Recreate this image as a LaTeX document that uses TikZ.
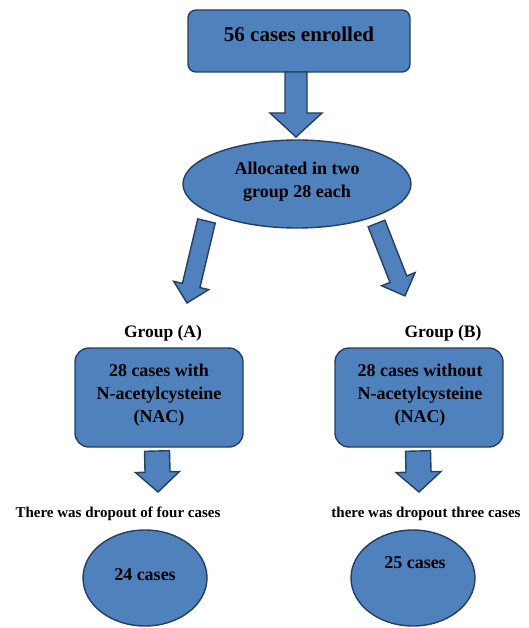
\documentclass[tikz,border=0pt]{standalone}
\usepackage{fontspec}
\setmainfont{Liberation Serif}
\usetikzlibrary{calc,shapes.geometric}
\definecolor{fillblue}{HTML}{4F81BD}
\definecolor{edgeblue}{HTML}{243F60}
\tikzset{
  shapestyle/.style={fill=fillblue,draw=edgeblue,line width=1.4pt},
  boxstyle/.style={shapestyle,rounded corners=12pt,inner sep=0pt},
  ellstyle/.style={shapestyle,ellipse,inner sep=0pt},
  txt/.style={font=\bfseries\fontsize{18}{23}\selectfont,align=center,text=black},
  labeltxt/.style={font=\bfseries\fontsize{17.5}{21}\selectfont,text=black},
  droptxt/.style={font=\bfseries\fontsize{15}{18}\selectfont,text=black},
  barrowstyle/.style={shapestyle,line join=miter}
}
% block arrow: #1 start, #2 tip, #3 shaft half width, #4 head half width, #5 head length
\newcommand\blockarrow[5]{%
  \draw[barrowstyle] let \p1=(#1), \p2=(#2),
      \n1={atan2(\y2-\y1,\x2-\x1)}, \n2={veclen(\x2-\x1,\y2-\y1)} in
      [shift={(\p1)},rotate=\n1]
      (0,-#3) -- ({\n2-#5},-#3) -- ({\n2-#5},-#4) -- (\n2,0) --
      ({\n2-#5},#4) -- ({\n2-#5},#3) -- (0,#3) -- cycle;}
\begin{document}
\begin{tikzpicture}[x=1pt,y=-1pt]
\useasboundingbox (0,0) rectangle (528,628);
% top box
\draw[boxstyle,rounded corners=8pt] (188,10) rectangle (410,72);
\node[txt,font=\bfseries\fontsize{21}{25}\selectfont] (top) at (299,34) {56 cases enrolled};
\coordinate (topb) at (296,72);
% allocation ellipse
\node[ellstyle,minimum width=228pt,minimum height=88pt] (alloc) at (297,184) {};
\node[txt] (alloctxt) at (297,182) {Allocated in two\\group 28 each};
\coordinate (alloct) at (296,137);
% group labels
\node[labeltxt] (ga) at (163,333) {Group (A)};
\node[labeltxt] (gb) at (443,333) {Group (B)};
% group boxes
\draw[boxstyle,rounded corners=14pt] (75,348) rectangle (243,447);
\node[txt] (boxa) at (159,395) {28 cases with\\N-acetylcysteine\\(NAC)};
\draw[boxstyle,rounded corners=14pt] (335,348) rectangle (503,447);
\node[txt] (boxb) at (420,395) {28 cases without\\N-acetylcysteine\\(NAC)};
% slanted arrow anchors
\coordinate (la0) at (206.5,221);
\coordinate (la1) at (187,303);
\coordinate (ra0) at (376.5,223.5);
\coordinate (ra1) at (405,296);
% bottom arrow anchors
\coordinate (ba0) at (157,451);
\coordinate (ba1) at (158,492);
\coordinate (bb0) at (418,451);
\coordinate (bb1) at (419,492);
% dropout texts
\node[droptxt] (da) at (118,514) {There was dropout of four cases};
\node[droptxt] (db) at (426,514) {there was dropout three cases};
% final ellipses
\node[ellstyle,minimum width=124pt,minimum height=96pt] (ea) at (145,578) {};
\node[txt] (eatxt) at (145,575) {24 cases};
\node[ellstyle,minimum width=124pt,minimum height=96pt] (eb) at (413,578) {};
\node[txt] (ebtxt) at (415,563) {25 cases};
% block arrows
\blockarrow{topb}{alloct}{11}{26}{24}
\blockarrow{la0}{la1}{9}{18}{18}
\blockarrow{ra0}{ra1}{9}{18}{18}
\blockarrow{ba0}{ba1}{12.5}{22}{20}
\blockarrow{bb0}{bb1}{12.5}{22.5}{20}
\end{tikzpicture}
\end{document}
